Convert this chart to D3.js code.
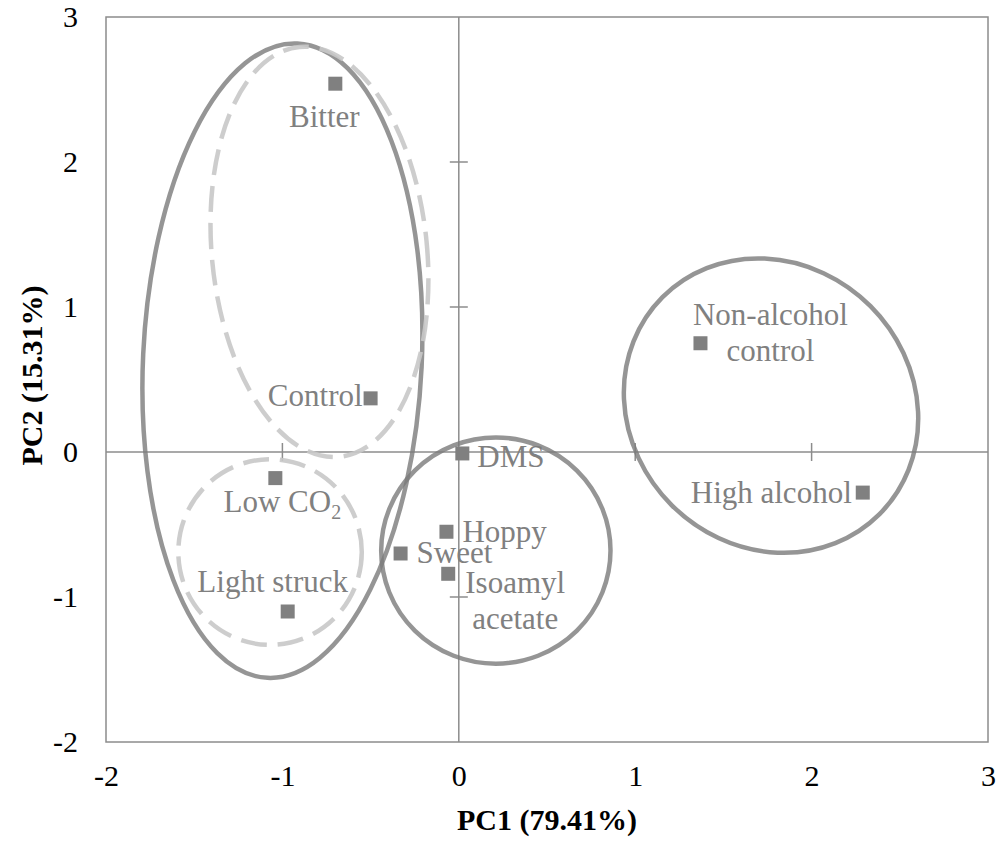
<!DOCTYPE html>
<html>
<head>
<meta charset="utf-8">
<script src="https://cdn.jsdelivr.net/npm/d3@7"></script>
<style>
  body { margin: 0; background: #fff; }
  svg text { font-family: "Liberation Serif", "Times New Roman", serif; }
</style>
</head>
<body>
<div id="chart"></div>
<script>

// sample scores on the first two components
var aNames = ["Bitter", "Control", "Low CO2", "Light struck", "DMS", "Hoppy", "Sweet", "Isoamyl acetate", "Non-alcohol control", "High alcohol"];
var aPC1 = [-0.70, -0.50, -1.04, -0.97, 0.02, -0.07, -0.33, -0.06, 1.37, 2.29];
var aPC2 = [2.54, 0.37, -0.18, -1.10, -0.01, -0.55, -0.70, -0.84, 0.75, -0.28];

// grouping ellipses, in data units (rotation in degrees)
var aEllCx = [-1.00, -0.79, -1.07, 0.21, 1.77];
var aEllCy = [0.63, 1.38, -0.69, -0.68, 0.32];
var aEllRx = [0.79, 0.61, 0.52, 0.65, 0.87];
var aEllRy = [2.19, 1.42, 0.64, 0.78, 0.97];
var aEllRot = [2.7, -5.6, 0, 0, 45];
var aEllDashed = [false, true, true, false, false];

var aTicks = [-2, -1, 0, 1, 2, 3];

var w = 1005, h = 843;
var x = d3.scaleLinear().domain([-2, 3]).range([106, 988]);
var y = d3.scaleLinear().domain([-2, 3]).range([742, 17]);

var grey = "#808080";

var svg = d3.select("#chart").append("svg")
    .attr("width", w)
    .attr("height", h);

// plot box
svg.append("rect")
    .attr("x", x(-2))
    .attr("y", y(3))
    .attr("width", x(3) - x(-2))
    .attr("height", y(-2) - y(3))
    .attr("fill", "none")
    .attr("stroke", "#8c8c8c")
    .attr("stroke-width", 1.5);

// zero lines
svg.append("line")
    .attr("x1", x(-2)).attr("x2", x(3))
    .attr("y1", y(0)).attr("y2", y(0))
    .attr("stroke", "#8c8c8c").attr("stroke-width", 1.5);
svg.append("line")
    .attr("x1", x(0)).attr("x2", x(0))
    .attr("y1", y(3)).attr("y2", y(-2))
    .attr("stroke", "#8c8c8c").attr("stroke-width", 1.5);

// crossing ticks on the zero lines
var tk = 9;
svg.selectAll("line.xtick")
    .data(aTicks.filter(function(d){ return d > -2 && d < 3 && d != 0; }))
    .enter().append("line")
    .attr("class", "xtick")
    .attr("x1", function(d){ return x(d); })
    .attr("x2", function(d){ return x(d); })
    .attr("y1", y(0) - tk).attr("y2", y(0) + tk)
    .attr("stroke", "#8c8c8c").attr("stroke-width", 1.5);
svg.selectAll("line.ytick")
    .data(aTicks.filter(function(d){ return d > -2 && d < 3 && d != 0; }))
    .enter().append("line")
    .attr("class", "ytick")
    .attr("y1", function(d){ return y(d); })
    .attr("y2", function(d){ return y(d); })
    .attr("x1", x(0) - tk).attr("x2", x(0) + tk)
    .attr("stroke", "#8c8c8c").attr("stroke-width", 1.5);

// tick labels, through d3 axes with no lines (plain hyphen for minus)
var fmt = function(d){ return String(d); };
var xAxis = svg.append("g")
    .attr("transform", "translate(0," + y(-2) + ")")
    .call(d3.axisBottom(x).tickValues(aTicks).tickSize(0).tickPadding(23).tickFormat(fmt));
var yAxis = svg.append("g")
    .attr("transform", "translate(" + (x(-2) - 28) + ",0)")
    .call(d3.axisLeft(y).tickValues(aTicks).tickSize(0).tickPadding(0).tickFormat(fmt));
[xAxis, yAxis].forEach(function(g){
    g.select(".domain").remove();
    g.selectAll("text")
        .attr("font-family", "Liberation Serif, Times New Roman, serif")
        .attr("font-size", "30px")
        .attr("fill", "black");
});

// axis titles
svg.append("text")
    .text("PC1 (79.41%)")
    .attr("x", (x(-2) + x(3)) / 2)
    .attr("y", 830)
    .attr("text-anchor", "middle")
    .attr("font-size", "30px")
    .attr("font-weight", "bold");
svg.append("text")
    .text("PC2 (15.31%)")
    .attr("transform", "translate(42," + ((y(-2) + y(3)) / 2 - 4) + ") rotate(-90)")
    .attr("text-anchor", "middle")
    .attr("font-size", "30px")
    .attr("font-weight", "bold");

// markers
var pts = aNames.map(function(n, i){ return {name: n, px: x(aPC1[i]), py: y(aPC2[i])}; });
var ms = 14;
svg.selectAll("rect.pt")
    .data(pts)
    .enter().append("rect")
    .attr("class", "pt")
    .attr("x", function(d){ return d.px - ms / 2; })
    .attr("y", function(d){ return d.py - ms / 2; })
    .attr("width", ms).attr("height", ms)
    .attr("fill", grey);

// label placement: anchor, dx, dy (first baseline), relative to the marker
var labelPos = {
    "Bitter": ["middle", -11, 43],
    "Control": ["end", -8, 8],
    "Low CO2": ["middle", 7, 34],
    "Light struck": ["middle", -15, -20],
    "DMS": ["start", 15, 14],
    "Hoppy": ["start", 16, 10],
    "Sweet": ["start", 16, 9],
    "Isoamyl acetate": ["middle", 67, 19],
    "Non-alcohol control": ["middle", 70, -18],
    "High alcohol": ["end", -11, 10]
};
var twoLines = {"Isoamyl acetate": ["Isoamyl", "acetate"], "Non-alcohol control": ["Non-alcohol", "control"]};

pts.forEach(function(d){
    var p = labelPos[d.name];
    var t = svg.append("text")
        .attr("x", d.px + p[1])
        .attr("y", d.py + p[2])
        .attr("text-anchor", p[0])
        .attr("font-size", "31px")
        .attr("fill", grey);
    if (twoLines[d.name]) {
        twoLines[d.name].forEach(function(s, j){
            t.append("tspan")
                .attr("x", d.px + p[1])
                .attr("dy", j == 0 ? 0 : 36)
                .text(s);
        });
    } else if (d.name == "Low CO2") {
        t.append("tspan").text("Low CO");
        t.append("tspan").text("2").attr("font-size", "20px").attr("dy", 7);
    } else {
        t.text(d.name);
    }
});

// group ellipses, drawn over the chart like shapes
var ells = aEllCx.map(function(c, i){
    return {
        cx: x(c), cy: y(aEllCy[i]),
        rx: x(aEllRx[i]) - x(0), ry: y(0) - y(aEllRy[i]),
        rot: aEllRot[i], dashed: aEllDashed[i]
    };
});
svg.selectAll("ellipse.grp")
    .data(ells)
    .enter().append("ellipse")
    .attr("class", "grp")
    .attr("transform", function(d){ return "translate(" + d.cx + "," + d.cy + ") rotate(" + d.rot + ")"; })
    .attr("rx", function(d){ return d.rx; })
    .attr("ry", function(d){ return d.ry; })
    .attr("fill", "none")
    .attr("stroke", function(d){ return d.dashed ? "#c8c8c8" : "#7a7a7a"; })
    .attr("stroke-opacity", function(d){ return d.dashed ? 0.9 : 0.8; })
    .attr("stroke-width", 4.5)
    .attr("stroke-dasharray", function(d){ return d.dashed ? "26 11" : null; });

</script>
</body>
</html>
